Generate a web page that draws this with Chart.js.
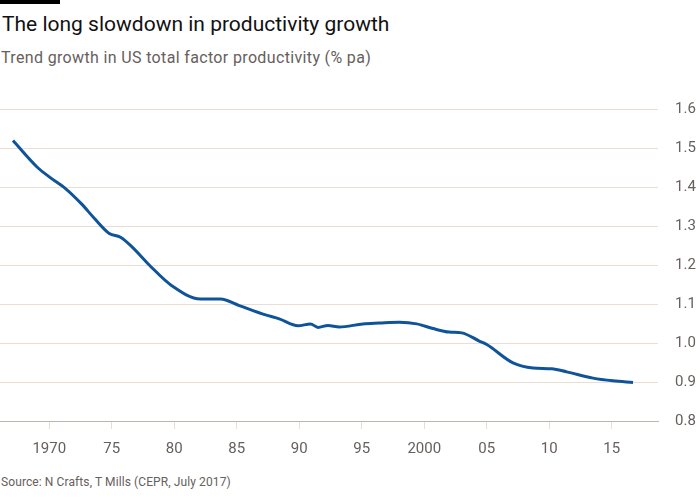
<!DOCTYPE html>
<html>
<head>
<meta charset="utf-8">
<script src="https://cdn.jsdelivr.net/npm/chart.js@4"></script>
<style>
  body { margin: 0; background: #fff; width: 700px; height: 500px; overflow: hidden; position: relative; font-family: Roboto, "Noto Sans", sans-serif; }
  #bar { position: absolute; left: 0; top: 0; width: 60px; height: 4px; background: #000; }
  #title { position: absolute; left: 2px; top: 12px; font-size: 21px; line-height: 24px; color: #111; }
  #subtitle { position: absolute; left: 1px; top: 48px; font-size: 16px; line-height: 19px; letter-spacing: 0.35px; color: #66605c; }
  #source { position: absolute; left: 1px; top: 475px; font-size: 12px; line-height: 15px; letter-spacing: 0.1px; color: #66605c; }
  #wrap { position: absolute; left: 0; top: 0; width: 700px; height: 500px; }
</style>
</head>
<body>
<div id="bar"></div>
<div id="title">The long slowdown in productivity growth</div>
<div id="subtitle">Trend growth in US total factor productivity (% pa)</div>
<div id="source">Source: N Crafts, T Mills (CEPR, July 2017)</div>
<div id="wrap"><canvas id="chart"></canvas></div>
<script>
// valores
const years = [1967.1, 1969.0, 1970.0, 1971.3, 1972.6, 1973.6, 1974.8, 1975.7, 1976.6, 1978.0,
  1979.8, 1982.1, 1983.7, 1985.2, 1987.3, 1988.4, 1989.9, 1990.9, 1991.5, 1992.3,
  1993.2, 1995.1, 1996.4, 1998.0, 1999.4, 2000.7, 2002.0, 2003.0, 2004.4, 2005.0,
  2007.1, 2008.7, 2010.2, 2011.4, 2013.5, 2015.1, 2016.7];
const tfpGrowth = [1.519, 1.452, 1.426, 1.396, 1.356, 1.320, 1.281, 1.271, 1.247, 1.200,
  1.147, 1.113, 1.113, 1.096, 1.072, 1.062, 1.044, 1.049, 1.040, 1.045,
  1.041, 1.049, 1.051, 1.053, 1.049, 1.037, 1.028, 1.026, 1.005, 0.996,
  0.949, 0.936, 0.934, 0.926, 0.910, 0.903, 0.899];
const tickYears = [1970, 1975, 1980, 1985, 1990, 1995, 2000, 2005, 2010, 2015];
const tickLabels = ["1970", "75", "80", "85", "90", "95", "2000", "05", "10", "15"];

const points = years.map((y, i) => ({ x: y, y: tfpGrowth[i] }));

const config = {
  type: "line",
  data: {
    datasets: [
      {
        label: "TFP",
        data: points,
        borderColor: "#0f5499",
        borderWidth: 3,
        pointRadius: 0,
        fill: false,
        cubicInterpolationMode: "monotone",
      },
    ],
  },
  options: {
    responsive: false,
    animation: false,
    layout: { padding: { top: 109, left: 0, right: 0, bottom: 0 } },
    plugins: { legend: { display: false }, tooltip: { enabled: false } },
    scales: {
      x: {
        type: "linear",
        min: 1966.06,
        max: 2018.7,
        afterFit: (s) => { s.height = 79; },
        afterBuildTicks: (s) => { s.ticks = tickYears.map((v) => ({ value: v })); },
        grid: { drawOnChartArea: false, drawTicks: true, tickLength: 8, color: "#e8ded3" },
        border: { display: true, color: "#bdb5ad", width: 1 },
        ticks: {
          padding: 11,
          maxRotation: 0,
          autoSkip: false,
          color: "#66605c",
          font: { family: "Roboto", size: 15 },
          callback: (v) => tickLabels[tickYears.indexOf(v)],
        },
      },
      y: {
        position: "right",
        min: 0.8,
        max: 1.6,
        afterFit: (s) => { s.width = 42; },
        grid: { drawTicks: false, color: (c) => (c.tick && Math.abs(c.tick.value - 0.8) < 1e-6 ? "#bdb5ad" : "#e8ded3") },
        border: { display: false },
        ticks: {
          stepSize: 0.1,
          padding: 17,
          color: "#66605c",
          font: { family: "Roboto", size: 15 },
          callback: (v) => v.toFixed(1),
        },
      },
    },
  },
};

const canvas = document.getElementById("chart");
canvas.width = 700;
canvas.height = 500;
canvas.style.width = "700px";
canvas.style.height = "500px";
new Chart(canvas.getContext("2d"), config);
</script>
</body>
</html>
